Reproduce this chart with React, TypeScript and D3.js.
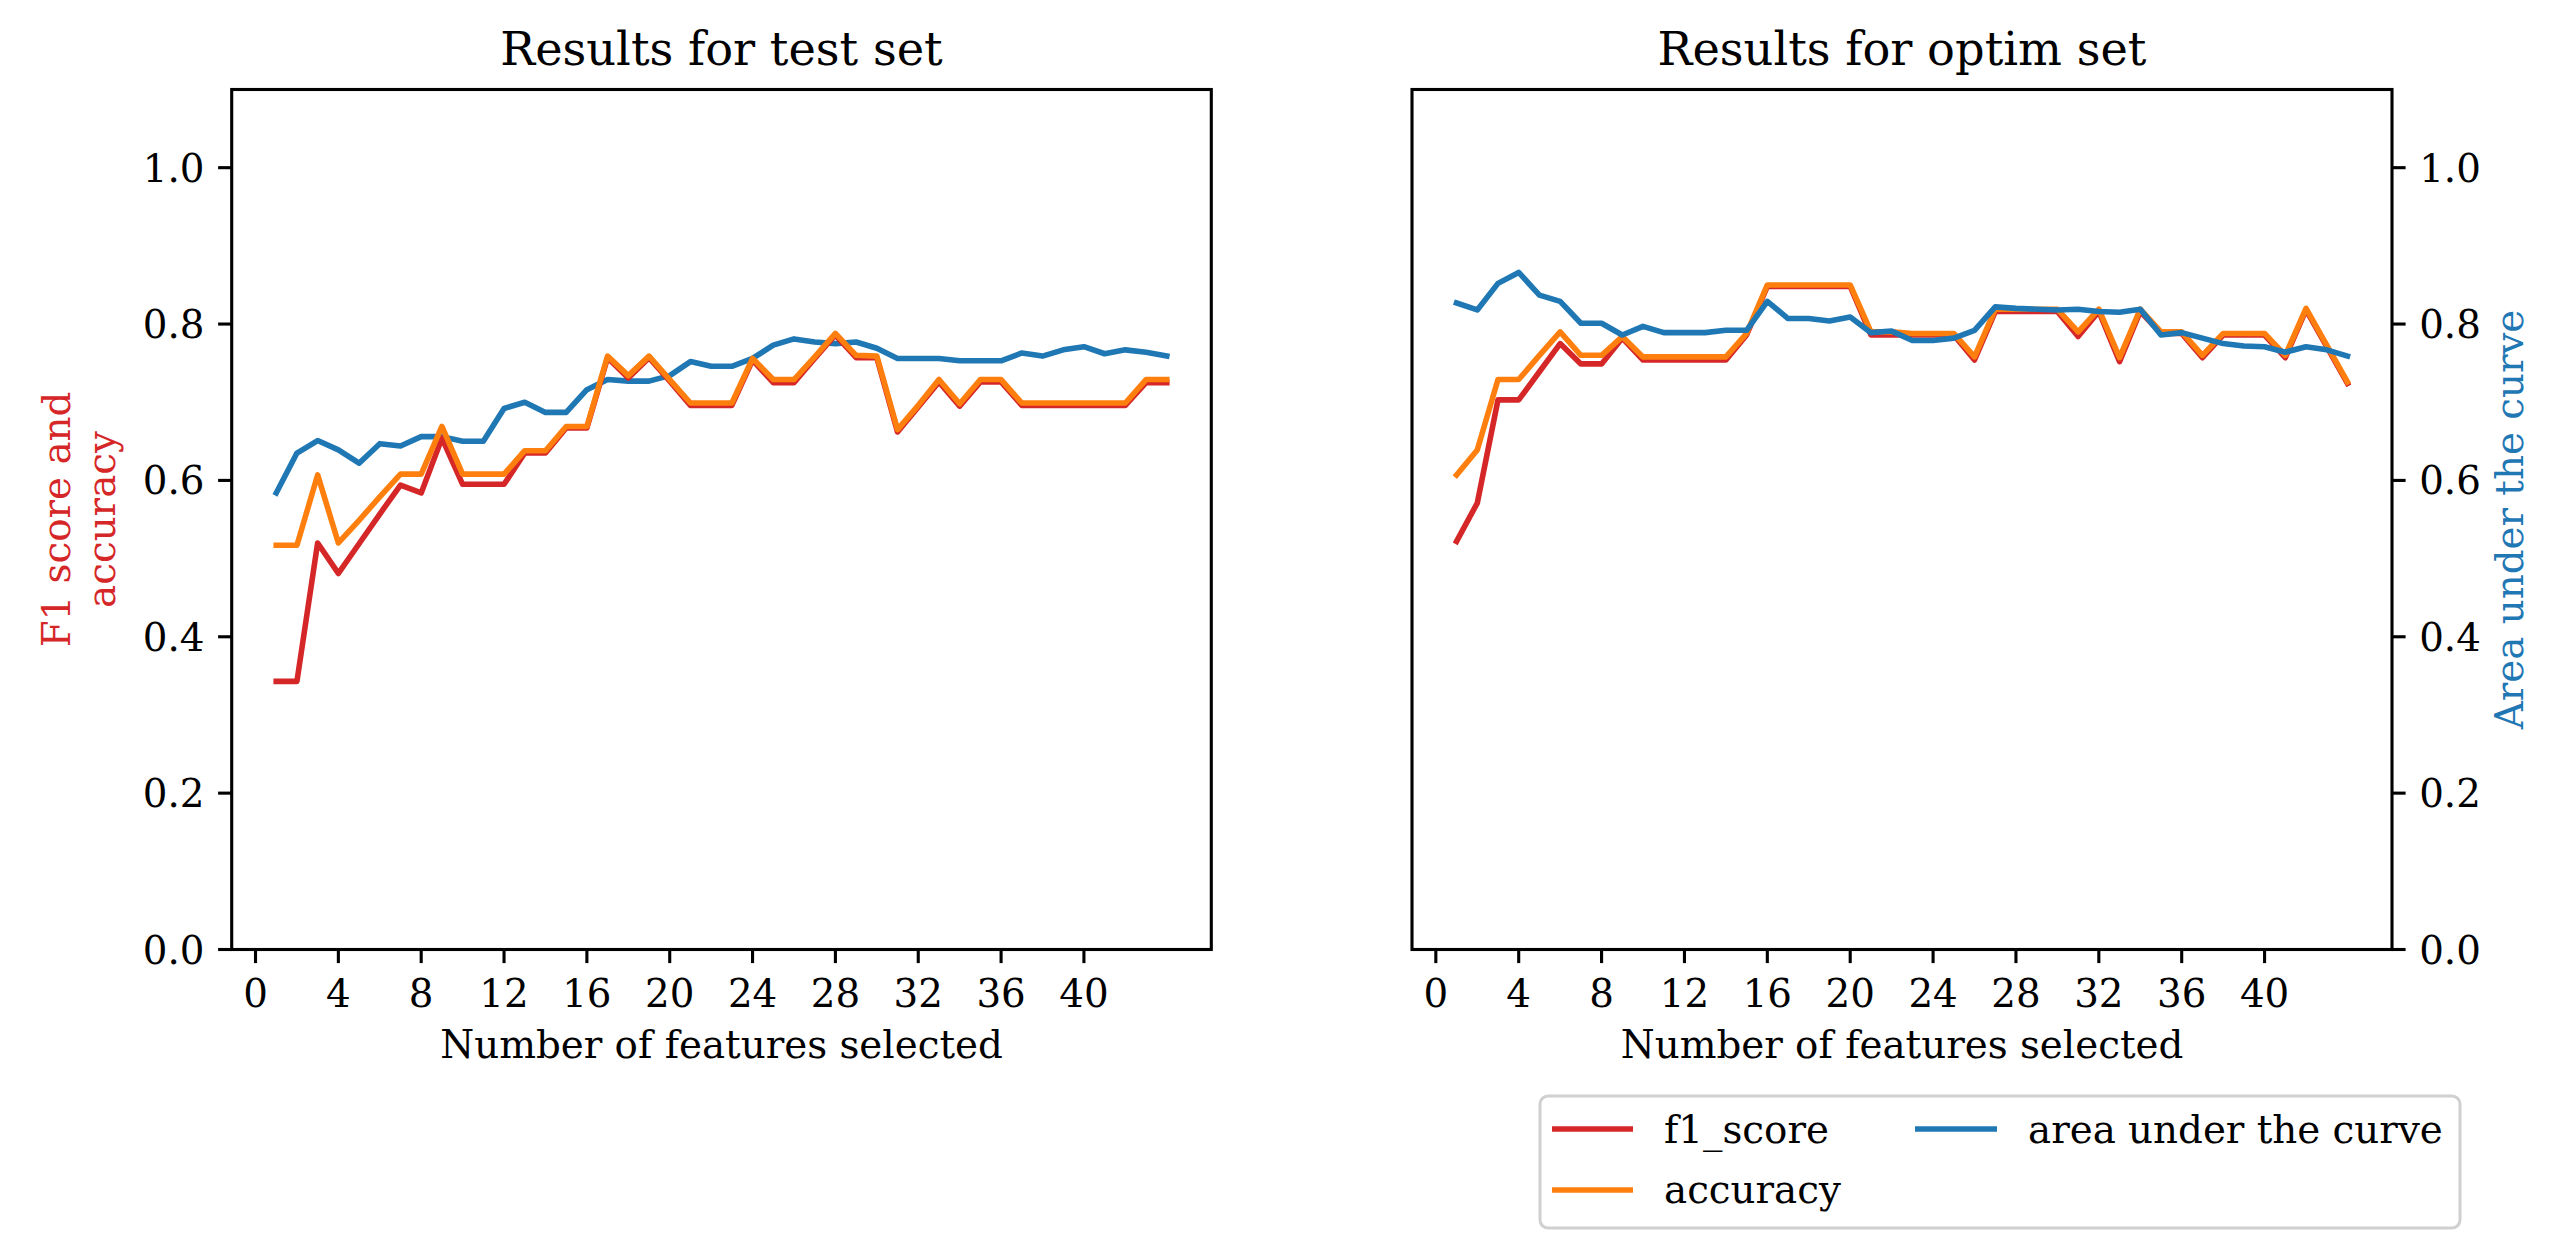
import React from "react";
import * as d3 from "d3";

// ---- data ----
const features = d3.range(1, 45);

const testF1 = [0.343, 0.343, 0.52, 0.481, 0.519, 0.557, 0.594, 0.584, 0.654, 0.595, 0.595, 0.595, 0.635, 0.635, 0.667, 0.667, 0.757, 0.731, 0.757, 0.727, 0.696, 0.696, 0.696, 0.754, 0.725, 0.725, 0.756, 0.786, 0.757, 0.757, 0.662, 0.694, 0.726, 0.695, 0.726, 0.726, 0.696, 0.696, 0.696, 0.696, 0.696, 0.696, 0.725, 0.725];
const testAcc = [0.517, 0.517, 0.607, 0.52, 0.549, 0.579, 0.608, 0.608, 0.669, 0.608, 0.608, 0.608, 0.638, 0.638, 0.669, 0.669, 0.759, 0.734, 0.759, 0.729, 0.699, 0.699, 0.699, 0.756, 0.729, 0.729, 0.758, 0.788, 0.76, 0.759, 0.665, 0.696, 0.729, 0.698, 0.729, 0.729, 0.699, 0.699, 0.699, 0.699, 0.699, 0.699, 0.729, 0.729];
const testAuc = [0.584, 0.635, 0.651, 0.639, 0.622, 0.647, 0.644, 0.656, 0.656, 0.65, 0.65, 0.692, 0.7, 0.687, 0.687, 0.716, 0.729, 0.727, 0.727, 0.734, 0.752, 0.746, 0.746, 0.756, 0.773, 0.781, 0.777, 0.775, 0.777, 0.769, 0.756, 0.756, 0.756, 0.753, 0.753, 0.753, 0.763, 0.759, 0.767, 0.771, 0.762, 0.767, 0.764, 0.759];

const optimF1 = [0.522, 0.571, 0.703, 0.703, 0.739, 0.775, 0.749, 0.749, 0.782, 0.754, 0.754, 0.754, 0.754, 0.754, 0.786, 0.848, 0.848, 0.848, 0.848, 0.848, 0.786, 0.786, 0.786, 0.786, 0.786, 0.754, 0.816, 0.816, 0.816, 0.816, 0.784, 0.816, 0.752, 0.816, 0.788, 0.788, 0.757, 0.786, 0.786, 0.786, 0.757, 0.818, 0.771, 0.724];
const optimAcc = [0.607, 0.639, 0.729, 0.729, 0.76, 0.79, 0.76, 0.76, 0.784, 0.758, 0.758, 0.758, 0.758, 0.758, 0.788, 0.85, 0.85, 0.85, 0.85, 0.85, 0.79, 0.79, 0.788, 0.788, 0.788, 0.758, 0.819, 0.819, 0.819, 0.819, 0.79, 0.819, 0.757, 0.819, 0.79, 0.79, 0.76, 0.788, 0.788, 0.788, 0.76, 0.82, 0.773, 0.726];
const optimAuc = [0.827, 0.818, 0.852, 0.866, 0.837, 0.829, 0.801, 0.801, 0.786, 0.797, 0.789, 0.789, 0.789, 0.792, 0.792, 0.829, 0.807, 0.807, 0.804, 0.809, 0.789, 0.791, 0.779, 0.779, 0.782, 0.792, 0.822, 0.82, 0.819, 0.818, 0.819, 0.816, 0.815, 0.819, 0.786, 0.789, 0.782, 0.775, 0.772, 0.771, 0.764, 0.771, 0.767, 0.759];

const xTicks = [0, 4, 8, 12, 16, 20, 24, 28, 32, 36, 40];
const yTicks = [0.0, 0.2, 0.4, 0.6, 0.8, 1.0];

const RED = "#d62728";
const ORANGE = "#ff7f0e";
const BLUE = "#1f77b4";
const FONT = "DejaVu Serif";

const W = 2554;
const H = 1251;
const TOP = 89.5;
const BOTTOM = 949.5;
const TICK_FS = 38.8;
const TITLE_FS = 46.3;
const LW = 5.6;
const SPINE = 3.1;
const TICKLEN = 13.6;

type Series = { values: number[]; color: string };

function Panel(props: {
  x0: number;
  x1: number;
  title: string;
  series: Series[];
  tickSide: "left" | "right";
}) {
  const { x0, x1, title, series, tickSide } = props;
  const x = d3.scaleLinear().domain([-1.15, 46.15]).range([x0, x1]);
  const y = d3.scaleLinear().domain([0, 1.1]).range([BOTTOM, TOP]);
  const line = d3
    .line<number>()
    .x((_, i) => x(features[i]))
    .y((d) => y(d));
  const cx = (x0 + x1) / 2;
  return (
    <g>
      <text x={cx} y={65} textAnchor="middle" fontSize={TITLE_FS} fontFamily={FONT} fill="#000">
        {title}
      </text>
      {series.map((s, i) => (
        <path
          key={i}
          d={line(s.values) || ""}
          fill="none"
          stroke={s.color}
          strokeWidth={LW}
          strokeLinejoin="round"
          strokeLinecap="square"
        />
      ))}
      <rect x={x0} y={TOP} width={x1 - x0} height={BOTTOM - TOP} fill="none" stroke="#000" strokeWidth={SPINE} />
      {xTicks.map((t) => (
        <g key={"x" + t}>
          <line x1={x(t)} x2={x(t)} y1={BOTTOM} y2={BOTTOM + TICKLEN} stroke="#000" strokeWidth={SPINE} />
          <text x={x(t)} y={1007} textAnchor="middle" fontSize={TICK_FS} fontFamily={FONT} fill="#000">
            {t}
          </text>
        </g>
      ))}
      {yTicks.map((t) => {
        const sx = tickSide === "left" ? x0 : x1;
        const dir = tickSide === "left" ? -1 : 1;
        return (
          <g key={"y" + t}>
            <line x1={sx} x2={sx + dir * TICKLEN} y1={y(t)} y2={y(t)} stroke="#000" strokeWidth={SPINE} />
            <text
              x={sx + dir * (TICKLEN * 2)}
              y={y(t) + 14}
              textAnchor={tickSide === "left" ? "end" : "start"}
              fontSize={TICK_FS}
              fontFamily={FONT}
              fill="#000"
            >
              {t.toFixed(1)}
            </text>
          </g>
        );
      })}
      <text x={cx} y={1058} textAnchor="middle" fontSize={TICK_FS} fontFamily={FONT} fill="#000">
        Number of features selected
      </text>
    </g>
  );
}

export default function App() {
  const midY = (TOP + BOTTOM) / 2;
  return (
    <svg
      width={W}
      height={H}
      viewBox={`0 0 ${W} ${H}`}
      style={{ position: "absolute", left: 0, top: 0, background: "#fff" }}
    >
      <rect x={0} y={0} width={W} height={H} fill="#fff" />
      <Panel
        x0={231.7}
        x1={1211.3}
        title="Results for test set"
        tickSide="left"
        series={[
          { values: testAuc, color: BLUE },
          { values: testF1, color: RED },
          { values: testAcc, color: ORANGE },
        ]}
      />
      <Panel
        x0={1412}
        x1={2392}
        title="Results for optim set"
        tickSide="right"
        series={[
          { values: optimF1, color: RED },
          { values: optimAcc, color: ORANGE },
          { values: optimAuc, color: BLUE },
        ]}
      />
      {/* left y label */}
      <text
        transform={`translate(70, ${midY}) rotate(-90)`}
        textAnchor="middle"
        fontSize={TICK_FS}
        fontFamily={FONT}
        fill={RED}
      >
        F1 score and
      </text>
      <text
        transform={`translate(115, ${midY}) rotate(-90)`}
        textAnchor="middle"
        fontSize={TICK_FS}
        fontFamily={FONT}
        fill={RED}
      >
        accuracy
      </text>
      {/* right y label */}
      <text
        transform={`translate(2523, ${midY}) rotate(-90)`}
        textAnchor="middle"
        fontSize={TICK_FS}
        fontFamily={FONT}
        fill={BLUE}
      >
        Area under the curve
      </text>
      {/* legend */}
      <g>
        <rect x={1540} y={1096} width={920} height={132} rx={8} fill="#fff" stroke="#d0d0d0" strokeWidth={3} />
        <line x1={1552} x2={1633} y1={1129} y2={1129} stroke={RED} strokeWidth={LW} />
        <text x={1664} y={1143} fontSize={TICK_FS} fontFamily={FONT} fill="#000">
          f1_score
        </text>
        <line x1={1552} x2={1633} y1={1190} y2={1190} stroke={ORANGE} strokeWidth={LW} />
        <text x={1664} y={1203} fontSize={TICK_FS} fontFamily={FONT} fill="#000">
          accuracy
        </text>
        <line x1={1915} x2={1997} y1={1129} y2={1129} stroke={BLUE} strokeWidth={LW} />
        <text x={2028} y={1143} fontSize={TICK_FS} fontFamily={FONT} fill="#000">
          area under the curve
        </text>
      </g>
    </svg>
  );
}
